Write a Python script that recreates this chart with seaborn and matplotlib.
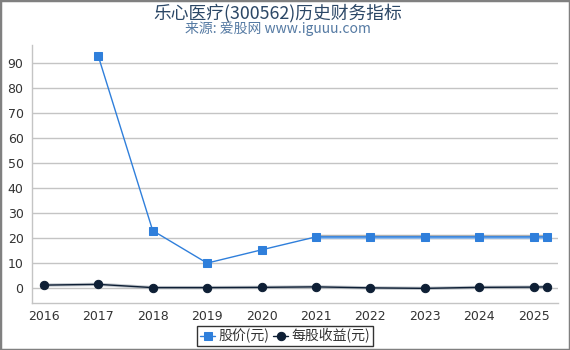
import matplotlib
matplotlib.use("Agg")
import matplotlib.pyplot as plt
import seaborn as sns
import pandas as pd
from matplotlib.patches import Rectangle

years_price = [2017, 2018, 2019, 2020, 2021, 2022, 2023, 2024, 2025, 2025.25]
price = [92.8, 23.0, 10.0, 15.3, 20.5, 20.5, 20.5, 20.5, 20.5, 20.5]
years_eps = [2016, 2017, 2018, 2019, 2020, 2021, 2022, 2023, 2024, 2025, 2025.25]
eps = [1.2, 1.5, 0.2, 0.2, 0.3, 0.5, 0.1, -0.1, 0.3, 0.4, 0.5]
xticks = list(range(2016, 2026))
yticks = list(range(0, 100, 10))
title = "乐心医疗(300562)历史财务指标"
subtitle = "来源: 爱股网 www.iguuu.com"
labels = ["股价(元)", "每股收益(元)"]

sns.set_theme(style="white")
plt.rcParams['font.family'] = ['Noto Sans CJK SC', 'DejaVu Sans']

fig = plt.figure(figsize=(5.7, 3.5), dpi=100)
ax = fig.add_axes([0.056, 0.134, 0.923, 0.737])

df_p = pd.DataFrame({"x": years_price, "y": price})
df_e = pd.DataFrame({"x": years_eps, "y": eps})

# highlighted flat segment of price from 2021 on
flat = df_p[df_p["x"] >= 2021]
ax.plot(flat["x"], flat["y"], color="#b0b0b0", lw=3.2, zorder=2, solid_capstyle="butt")
ax.plot(flat["x"], flat["y"], color="#8db9ec", lw=2.2, zorder=2.1, solid_capstyle="butt")
ax.plot(df_e["x"], df_e["y"], color="#9aa3ad", lw=2.4, zorder=2, alpha=0.6)

sns.lineplot(data=df_p, x="x", y="y", ax=ax, color="#2f7fdb", lw=1.0, marker="s",
             markersize=6, markeredgecolor="#2f7fdb", label=labels[0], zorder=3)
sns.lineplot(data=df_e, x="x", y="y", ax=ax, color="#0e1f35", lw=1.0, marker="o",
             markersize=6, markeredgecolor="#0e1f35", label=labels[1], zorder=3)

ax.set_xlim(2015.78, 2025.45)
ax.set_ylim(-6, 97.2)
ax.set_xticks(xticks)
ax.set_xticklabels([str(t) for t in xticks])
ax.set_yticks(yticks)
ax.set_xlabel("")
ax.set_ylabel("")
ax.yaxis.grid(True, color="#c4c4c4", lw=1)
ax.xaxis.grid(False)
for s in ["top", "right"]:
    ax.spines[s].set_visible(False)
for s in ["left", "bottom"]:
    ax.spines[s].set_color("#c4c4c4")
    ax.spines[s].set_linewidth(1)
ax.tick_params(axis="y", length=0, labelsize=9, labelcolor="#333333", pad=6)
ax.tick_params(axis="x", length=3, color="#c4c4c4", labelsize=9, labelcolor="#333333", pad=2)
for t in ax.get_xticklabels() + ax.get_yticklabels():
    t.set_fontfamily("DejaVu Sans")

leg = ax.legend(loc="center", bbox_to_anchor=(0.5, 0.04), bbox_transform=fig.transFigure,
                ncol=2, frameon=True, fontsize=10, handlelength=1.1, handletextpad=0.2,
                columnspacing=0.3, borderpad=0.2, borderaxespad=0, fancybox=False)
leg.get_frame().set_edgecolor("#000000")
leg.get_frame().set_linewidth(1)
for t in leg.get_texts():
    t.set_color("#333333")

fig.text(0.488, 0.963, title, ha="center", va="center", fontsize=12.8, color="#2b4766")
fig.text(0.487, 0.918, subtitle, ha="center", va="center", fontsize=10, color="#557aa3")

fig.patches.append(Rectangle((0, 0), 1, 1, transform=fig.transFigure, fill=False,
                             edgecolor="#808080", lw=2.5, zorder=10))
fig.savefig("out.png", dpi=100)
